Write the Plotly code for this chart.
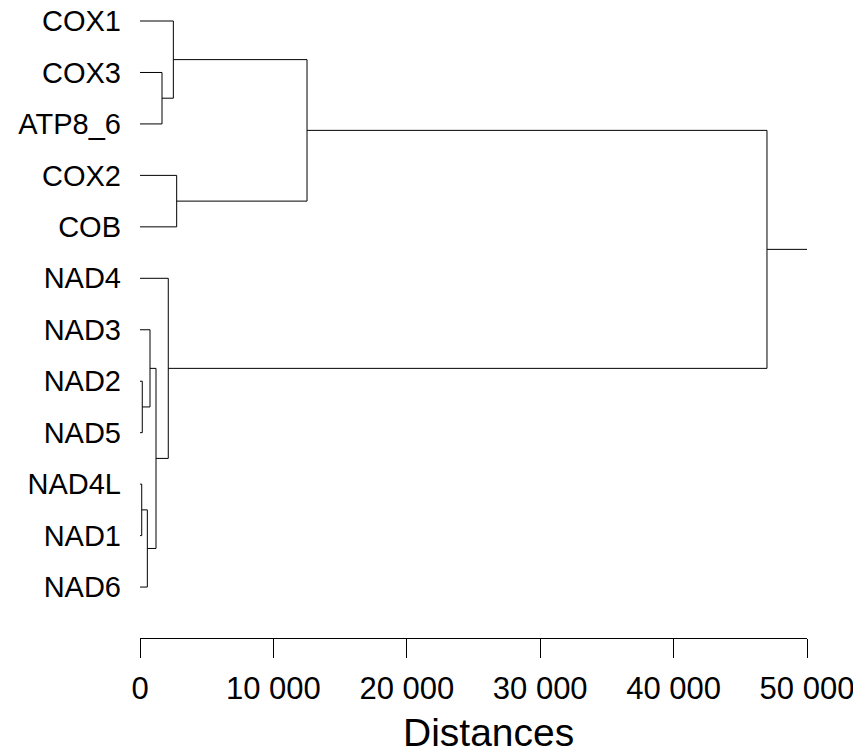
import plotly.graph_objects as go

# Leaves, top to bottom
leaves = ["COX1", "COX3", "ATP8_6", "COX2", "COB",
          "NAD4", "NAD3", "NAD2", "NAD5", "NAD4L", "NAD1", "NAD6"]

# Merges: new node, left child, right child, merge distance
merge_nodes = ["m1", "m2", "m3", "m4", "m5", "m6", "m7", "m8", "m9", "m10", "root"]
merge_left = ["COX3", "COX1", "COX2", "m2", "NAD2", "NAD3", "NAD4L", "NAD6", "m6", "NAD4", "m4"]
merge_right = ["ATP8_6", "m1", "COB", "m3", "NAD5", "m5", "NAD1", "m7", "m8", "m9", "m10"]
merge_height = [1650, 2500, 2750, 12520, 170, 750, 130, 550, 1200, 2120, 47000]

# The root stem is drawn out to the end of the axis
stem_end = 50000

x_ticks = [0, 10000, 20000, 30000, 40000, 50000]

# Build node coordinates
pos = {name: (0.0, float(i)) for i, name in enumerate(leaves)}
xs, ys = [], []
for node, l, r, h in zip(merge_nodes, merge_left, merge_right, merge_height):
    hl, yl = pos[l]
    hr, yr = pos[r]
    xs += [hl, h, h, hr, None]
    ys += [yl, yl, yr, yr, None]
    pos[node] = (h, (yl + yr) / 2)

rh, ry = pos["root"]
xs += [rh, stem_end, None]
ys += [ry, ry, None]

fig = go.Figure()
fig.add_trace(go.Scatter(x=xs, y=ys, mode="lines",
                         line=dict(color="black", width=1),
                         hoverinfo="skip", showlegend=False, cliponaxis=False))

font_family = "Liberation Sans, Arial, sans-serif"

# page body adds an 8px offset, so the figure is sized/margined to compensate
fig.update_layout(
    width=853, height=745,
    margin=dict(l=132, r=54, t=2, b=115),
    paper_bgcolor="white", plot_bgcolor="white",
    separators=". ",
    font=dict(family=font_family, color="black"),
    xaxis=dict(range=[0, 50000], tickvals=x_ticks, tickformat=",d",
               automargin=False, ticklabeloverflow="allow",
               showgrid=False, zeroline=False, showline=True,
               linecolor="black", linewidth=1,
               ticks="outside", ticklen=19, tickcolor="black", tickwidth=1,
               tickfont=dict(size=31, family=font_family, color="black"),
               ticklabelstandoff=4),
    yaxis=dict(range=[11.99, -0.214], tickvals=list(range(len(leaves))),
               ticktext=leaves, showgrid=False, zeroline=False,
               automargin=False, ticklabeloverflow="allow",
               showline=False, ticks="",
               tickfont=dict(size=29, family=font_family, color="black"),
               ticklabelstandoff=18),
    annotations=[dict(text="Distances", xref="paper", yref="paper",
                      x=0.523, y=-0.151, xanchor="center", yanchor="middle",
                      showarrow=False,
                      font=dict(size=39, family=font_family, color="black"))],
)

fig.write_html("out.html")
